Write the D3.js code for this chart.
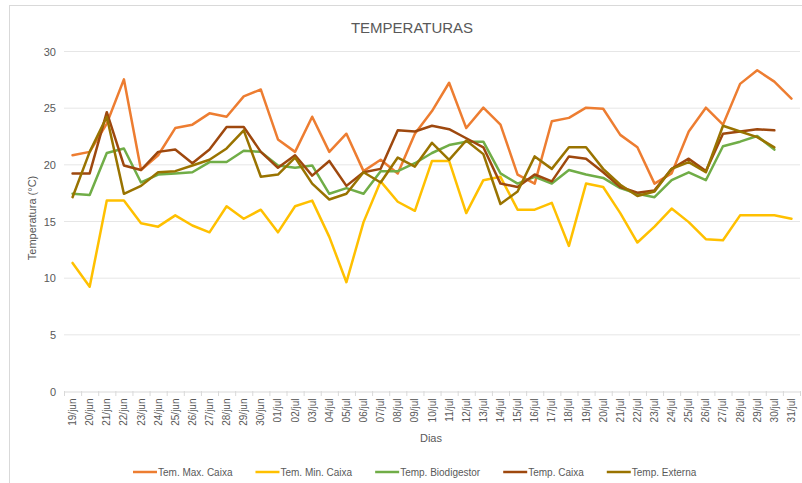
<!DOCTYPE html>
<html lang="pt">
<head>
    <meta charset="UTF-8">
    <title>Temperaturas</title>
    <script src="https://d3js.org/d3.v7.min.js"></script>
    <style>
        body { margin: 0; background: #fff; }
        svg { display: block; font-family: "Liberation Sans", Arial, sans-serif; }
        .axis text { fill: #595959; }
        .axis path, .axis line { stroke: #d9d9d9; }
    </style>
</head>
<body>
<svg width="802" height="483"></svg>
<script>
// dias do periodo
const dias = ["19/jun","20/jun","21/jun","22/jun","23/jun","24/jun","25/jun","26/jun","27/jun","28/jun","29/jun","30/jun",
    "01/jul","02/jul","03/jul","04/jul","05/jul","06/jul","07/jul","08/jul","09/jul","10/jul","11/jul","12/jul","13/jul",
    "14/jul","15/jul","16/jul","17/jul","18/jul","19/jul","20/jul","21/jul","22/jul","23/jul","24/jul","25/jul","26/jul",
    "27/jul","28/jul","29/jul","30/jul","31/jul"];

const tempMaxCaixa = [20.8,21.1,23.6,27.5,19.5,20.8,23.2,23.5,24.5,24.2,26.0,26.6,22.2,21.1,24.2,21.1,22.7,19.4,20.4,19.2,22.7,24.7,27.2,23.2,25.0,23.5,19.1,18.3,23.8,24.1,25.0,24.9,22.6,21.5,18.3,19.2,22.9,25.0,23.5,27.1,28.3,27.3,25.8];
const tempMinCaixa = [11.3,9.2,16.8,16.8,14.8,14.5,15.5,14.6,14.0,16.3,15.2,16.0,14.0,16.3,16.8,13.6,9.6,14.9,18.5,16.7,15.9,20.3,20.3,15.7,18.6,18.9,16.0,16.0,16.6,12.8,18.3,18.0,15.7,13.1,14.5,16.1,14.9,13.4,13.3,15.5,15.5,15.5,15.2];
const tempBiodigestor = [17.4,17.3,21.0,21.4,18.4,19.1,19.2,19.3,20.2,20.2,21.2,21.1,19.9,19.7,19.9,17.4,17.9,17.4,19.4,19.4,20.1,21.0,21.7,22.0,22.0,19.2,18.3,18.9,18.3,19.5,19.1,18.8,17.9,17.4,17.1,18.6,19.3,18.6,21.6,22.0,22.5,21.3,null];
const tempCaixa = [19.2,19.2,24.6,19.9,19.5,21.1,21.3,20.1,21.3,23.3,23.3,21.1,19.7,20.8,19.0,20.3,18.1,19.3,19.6,23.0,22.9,23.4,23.1,22.3,21.5,18.3,18.0,19.1,18.5,20.7,20.5,19.3,18.0,17.5,17.7,19.6,20.5,19.4,22.7,22.9,23.1,23.0,null];
const tempExterna = [17.1,21.1,24.2,17.4,18.1,19.3,19.4,19.9,20.4,21.4,23.0,18.9,19.1,20.6,18.3,16.9,17.4,19.3,18.4,20.6,19.8,21.9,20.4,22.1,20.9,16.5,17.6,20.7,19.6,21.5,21.5,19.6,18.2,17.2,17.6,19.6,20.2,19.3,23.4,22.9,22.4,21.5,null];

const yTicks = [0, 5, 10, 15, 20, 25, 30];

const series = [
    { nome: "Tem. Max. Caixa", valores: tempMaxCaixa, cor: "#ED7D31" },
    { nome: "Tem. Min. Caixa", valores: tempMinCaixa, cor: "#FFC000" },
    { nome: "Temp. Biodigestor", valores: tempBiodigestor, cor: "#70AD47" },
    { nome: "Temp. Caixa", valores: tempCaixa, cor: "#9E480E" },
    { nome: "Temp. Externa", valores: tempExterna, cor: "#997300" }
];

const svg = d3.select("svg");
const margin = { top: 51, right: 2, bottom: 92, left: 64 };
const width = 802, height = 483;

// borda do grafico
svg.append("rect")
    .attr("x", 9.5).attr("y", 5.5)
    .attr("width", 820).attr("height", 500)
    .attr("fill", "none")
    .attr("stroke", "#d9d9d9");

const x = d3.scaleBand()
    .domain(dias)
    .range([margin.left, width - margin.right]);

const y = d3.scaleLinear()
    .domain([0, 30])
    .range([height - margin.bottom, margin.top]);

// linhas de grade
svg.append("g")
    .selectAll("line")
    .data(yTicks.filter(d => d > 0))
    .join("line")
    .attr("x1", margin.left).attr("x2", width - margin.right)
    .attr("y1", d => y(d) + 0.5).attr("y2", d => y(d) + 0.5)
    .attr("stroke", "#e6e6e6");

// eixo y
const yAxis = svg.append("g")
    .attr("class", "axis")
    .attr("transform", `translate(${margin.left}, 0.5)`)
    .call(d3.axisLeft(y).tickValues(yTicks).tickSize(0).tickPadding(8));
yAxis.select(".domain").remove();
yAxis.selectAll("text").style("font-size", "11px");

// eixo x
const xAxis = svg.append("g")
    .attr("class", "axis")
    .attr("transform", `translate(0, ${y(0) + 0.5})`)
    .call(d3.axisBottom(x).tickSize(0).tickPadding(0));
xAxis.selectAll(".tick text")
    .style("font-size", "10px")
    .attr("text-anchor", "end")
    .attr("transform", "rotate(-90)")
    .attr("x", -7)
    .attr("y", 0)
    .attr("dy", "0.35em");

// marcas entre categorias
svg.append("g")
    .selectAll("line")
    .data(dias.concat(["fim"]))
    .join("line")
    .attr("x1", (d, i) => x.range()[0] + i * x.step() + 0.5)
    .attr("x2", (d, i) => x.range()[0] + i * x.step() + 0.5)
    .attr("y1", y(0))
    .attr("y2", y(0) + 5)
    .attr("stroke", "#d9d9d9");

// linhas das series
const line = d3.line()
    .defined(d => d.v != null)
    .x(d => x(d.dia) + x.bandwidth() / 2)
    .y(d => y(d.v));

series.forEach(function (s) {
    svg.append("path")
        .datum(s.valores.map((v, i) => ({ dia: dias[i], v: v })))
        .attr("fill", "none")
        .attr("stroke", s.cor)
        .attr("stroke-width", 2.5)
        .attr("stroke-linejoin", "round")
        .attr("stroke-linecap", "round")
        .attr("d", line);
});

// titulo
svg.append("text")
    .attr("x", 412).attr("y", 33)
    .attr("text-anchor", "middle")
    .attr("fill", "#595959")
    .style("font-size", "15px")
    .text("TEMPERATURAS");

// titulos dos eixos
svg.append("text")
    .attr("transform", "rotate(-90)")
    .attr("x", -218).attr("y", 36)
    .attr("text-anchor", "middle")
    .attr("fill", "#595959")
    .style("font-size", "11px")
    .text("Temperatura (°C)");

svg.append("text")
    .attr("x", 431).attr("y", 442)
    .attr("text-anchor", "middle")
    .attr("fill", "#595959")
    .style("font-size", "11px")
    .text("Dias");

// legenda
const legenda = svg.append("g").attr("transform", "translate(133, 472)");
let lx = 0;
series.forEach(function (s) {
    const g = legenda.append("g").attr("transform", `translate(${lx}, 0)`);
    g.append("line")
        .attr("x1", 0).attr("x2", 24)
        .attr("stroke", s.cor)
        .attr("stroke-width", 2.5);
    const t = g.append("text")
        .attr("x", 25).attr("dy", "0.35em")
        .attr("fill", "#595959")
        .style("font-size", "10px")
        .text(s.nome);
    lx += 25 + t.node().getComputedTextLength() + 23;
});
</script>
</body>
</html>
